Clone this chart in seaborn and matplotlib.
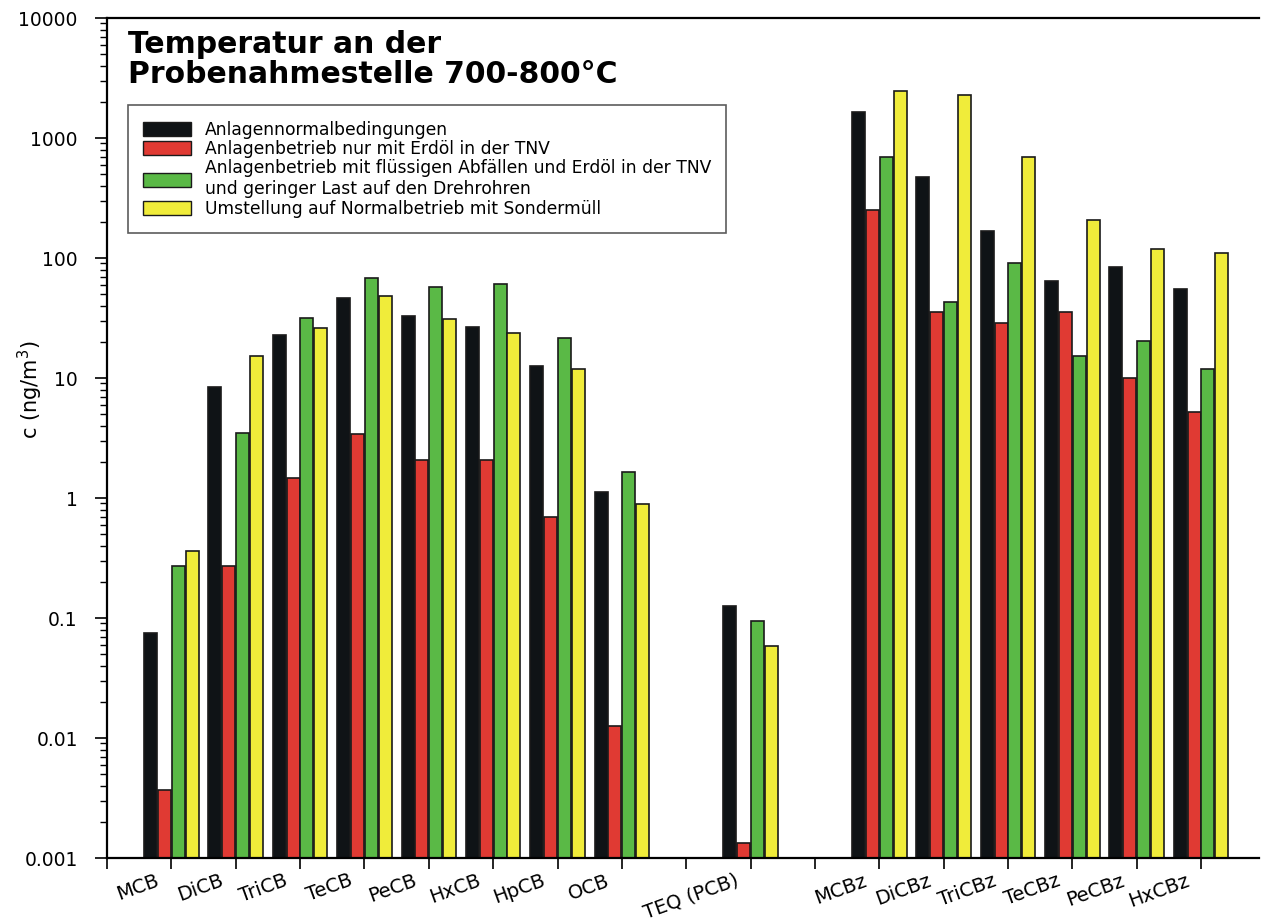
import numpy as np
import pandas as pd
import matplotlib.pyplot as plt
import matplotlib.transforms as mtransforms
import seaborn as sns
from matplotlib.patches import Patch

# Verbindungen (Kategorien) und Messwerte in ng/m3
verbindungen = ["MCB", "DiCB", "TriCB", "TeCB", "PeCB", "HxCB", "HpCB", "OCB",
                "TEQ (PCB)",
                "MCBz", "DiCBz", "TriCBz", "TeCBz", "PeCBz", "HxCBz"]

bedingungen = ["Anlagennormalbedingungen",
               "Anlagenbetrieb nur mit Erdöl in der TNV",
               "Anlagenbetrieb mit flüssigen Abfällen und Erdöl in der TNV\nund geringer Last auf den Drehrohren",
               "Umstellung auf Normalbetrieb mit Sondermüll"]

normal = [0.075, 8.4, 23, 46, 33, 26.6, 12.6, 1.12, 0.126,
          1650, 473, 168, 64, 84, 55]
erdoel = [0.0037, 0.27, 1.47, 3.4, 2.07, 2.07, 0.70, 0.0126, 0.00133,
          251, 35.5, 28.7, 35.5, 10, 5.2]
abfall = [0.27, 3.5, 31.6, 68, 57, 60.7, 21.5, 1.65, 0.094,
          695, 43, 90.8, 15.2, 20.3, 11.9]
sondermuell = [0.36, 15.2, 26, 48, 31, 23.7, 11.9, 0.89, 0.058,
               2465, 2280, 695, 207, 119, 110]

farben = ["#0f1316", "#e03a33", "#5ab946", "#f0ec3a"]

# Reihenfolge auf der x-Achse, mit leeren Plätzen
reihenfolge = [""] + verbindungen[:8] + [" ", "TEQ (PCB)", "  "] + verbindungen[9:]

ytick_werte = [0.001, 0.01, 0.1, 1, 10, 100, 1000, 10000]
ytick_labels = ["0.001", "0.01", "0.1", "1", "10", "100", "1000", "10000"]

# Long-Format für seaborn
df = pd.DataFrame({"Verbindung": verbindungen * 4,
                   "Bedingung": np.repeat(bedingungen, len(verbindungen)),
                   "c": normal + erdoel + abfall + sondermuell})

plt.rcParams['font.family'] = ['DejaVu Sans']

fig = plt.figure(figsize=(12.61, 9.21), dpi=100)
ax = fig.add_axes([107 / 1261, 63 / 921, 1152 / 1261, 840 / 921])

sns.barplot(data=df, x="Verbindung", y="c", hue="Bedingung", order=reihenfolge,
            hue_order=bedingungen, palette=farben, width=0.86, gap=0.06,
            edgecolor="#1a1a1a", linewidth=1.2, saturation=1, ax=ax, legend=False)

ax.set_yscale("log")
ax.set_ylim(0.001, 10000)
ax.set_xlim(0, 17.9)
ax.set_yticks(ytick_werte)
ax.set_yticklabels(ytick_labels, fontsize=13.5)
ax.tick_params(axis="y", which="major", direction="out", length=9, width=1.2, pad=12)
ax.tick_params(axis="y", which="minor", direction="out", length=5, width=1)
ax.tick_params(axis="x", direction="out", length=8, width=1.2)

ax.set_xticks(range(len(reihenfolge)))
ax.set_xticklabels(reihenfolge, rotation=20, ha="right", rotation_mode="anchor", fontsize=14)
verschiebung = mtransforms.ScaledTranslation(-0.16, 0.03, fig.dpi_scale_trans)
for lbl in ax.get_xticklabels():
    lbl.set_transform(lbl.get_transform() + verschiebung)

ax.set_xlabel("")
ax.set_ylabel("c (ng/m$^3$)", fontsize=15)
ax.yaxis.set_label_coords(-0.054, 0.557)

ax.spines["right"].set_visible(False)
for s in ["left", "bottom", "top"]:
    ax.spines[s].set_linewidth(1.6)

ax.text(0.018, 0.986, "Temperatur an der\nProbenahmestelle 700-800°C", transform=ax.transAxes,
        fontsize=21.5, fontweight="bold", va="top", ha="left", linespacing=1.05)

griffe = [Patch(facecolor=f, edgecolor="#1a1a1a", linewidth=1) for f in farben]
leg = ax.legend(griffe, bedingungen, loc="upper left", bbox_to_anchor=(0.018, 0.896),
                fontsize=12.3, frameon=True, fancybox=False, edgecolor="#333333",
                handlelength=2.8, handleheight=0.85, labelspacing=0.08,
                borderpad=0.9, handletextpad=0.8, borderaxespad=0)
leg.get_frame().set_linewidth(1.2)

fig.savefig("out.png", dpi=100)
